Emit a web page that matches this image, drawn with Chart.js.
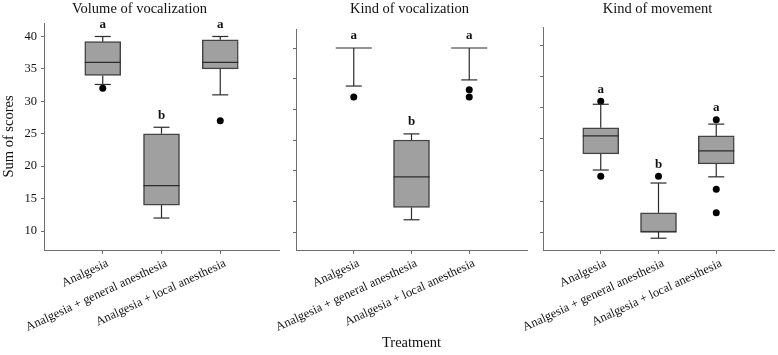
<!DOCTYPE html>
<html>
<head>
<meta charset="utf-8">
<script src="https://cdn.jsdelivr.net/npm/chart.js@4"></script>
<style>
  body { margin: 0; background: #fff; }
  #wrap { position: relative; width: 778px; height: 355px; }
  #wrap canvas { position: absolute; left: 0; top: 0; }
</style>
</head>
<body>
<div id="wrap">
  <canvas id="c1" width="778" height="355"></canvas>
  <canvas id="c2" width="778" height="355"></canvas>
  <canvas id="c3" width="778" height="355"></canvas>
</div>
<script>
const treatments = ['Analgesia', 'Analgesia + general anesthesia', 'Analgesia + local anesthesia'];
const yTicks = [10, 15, 20, 25, 30, 35, 40];

// box stats per treatment: [lower whisker, q1, median, q3, upper whisker]
const volumeBoxes = [[32.6, 34, 36, 39.2, 40], [12, 14, 17, 25, 26], [31, 35, 36, 39.5, 40]];
const volumeOutliers = [[32], [], [27]];
const volumeLetters = ['a', 'b', 'a'];

const kindVocBoxes = [[33.8, 40, 40, 40, 40], [12, 14, 19, 25, 26], [34.8, 40, 40, 40, 40]];
const kindVocOutliers = [[32], [], [33.2, 32]];
const kindVocLetters = ['a', 'b', 'a'];

const movementBoxes = [[20, 22.6, 25.5, 26.8, 30.6], [9, 10, 10, 13.1, 17.9], [18.9, 21, 23.1, 25.5, 27.4]];
const movementOutliers = [[31.1, 19], [19], [28.1, 16.9, 13.1]];
const movementLetters = ['a', 'b', 'a'];

Chart.defaults.font.family = "'Liberation Serif', 'Times New Roman', serif";
Chart.defaults.color = '#111';

const axisColor = '#6e6e6e';

// whiskers, caps, medians and letters drawn through the scales
const boxPlugin = {
  id: 'boxplot',
  afterDatasetsDraw(chart, args, opts) {
    const { ctx, scales: { x, y } } = chart;
    const halfBox = opts.boxWidth / 2;
    const halfCap = opts.capWidth / 2;
    const line = (x1, y1, x2, y2) => {
      ctx.beginPath(); ctx.moveTo(x1, y1); ctx.lineTo(x2, y2); ctx.stroke();
    };
    ctx.save();
    ctx.strokeStyle = '#2b2b2b';
    ctx.lineWidth = 1.2;
    opts.boxes.forEach((b, i) => {
      const cx = x.getPixelForValue(i);
      const [lo, q1, med, q3, hi] = b.map(v => y.getPixelForValue(v));
      if (hi < q3) { line(cx, q3, cx, hi); line(cx - halfCap, hi, cx + halfCap, hi); }
      if (lo > q1) { line(cx, q1, cx, lo); line(cx - halfCap, lo, cx + halfCap, lo); }
      line(cx - halfBox, med, cx + halfBox, med);
      // significance letter
      const top = Math.max(b[4], ...opts.outliers[i]);
      ctx.fillStyle = '#111';
      ctx.font = "bold 13px 'Liberation Serif', serif";
      ctx.textAlign = 'center';
      ctx.textBaseline = 'middle';
      ctx.fillText(opts.letters[i], cx, y.getPixelForValue(top) - 12);
    });
    ctx.restore();
  }
};

function makePanel(id, cfg) {
  const boxData = cfg.boxes.map((b, i) => ({ x: i, y: [b[1], b[3]] }));
  const outlierData = [];
  cfg.outliers.forEach((list, i) => list.forEach(v => outlierData.push({ x: i, y: v })));

  new Chart(document.getElementById(id), {
    type: 'bar',
    data: {
      datasets: [
        {
          type: 'bar',
          data: boxData,
          backgroundColor: '#a0a0a0',
          borderColor: '#444',
          borderWidth: 1.5,
          borderSkipped: false,
          barThickness: 36
        },
        {
          type: 'scatter',
          data: outlierData,
          pointRadius: 3.5,
          pointBackgroundColor: '#000',
          pointBorderColor: '#000',
          pointBorderWidth: 0
        }
      ]
    },
    plugins: [boxPlugin],
    options: {
      responsive: false,
      animation: false,
      events: [],
      layout: { padding: { left: cfg.padLeft, right: cfg.padRight, top: 0, bottom: 0 } },
      plugins: {
        legend: { display: false },
        tooltip: { enabled: false },
        title: {
          display: true,
          text: cfg.title,
          font: { size: 14.5, weight: 'normal', lineHeight: 1.2 },
          color: '#111',
          padding: { top: 0, bottom: cfg.chartTop - 17.4 }
        },
        boxplot: {
          boxes: cfg.boxes,
          outliers: cfg.outliers,
          letters: cfg.letters,
          boxWidth: 36,
          capWidth: 16
        }
      },
      scales: {
        x: {
          type: 'linear',
          min: -1,
          max: 3,
          offset: false,
          afterBuildTicks: s => { s.ticks = [0, 1, 2].map(v => ({ value: v })); },
          afterFit: s => { s.height = 105; },
          grid: { drawOnChartArea: false, drawTicks: true, tickLength: 4, color: axisColor, offset: false },
          border: { display: true, color: axisColor, width: 1 },
          ticks: {
            autoSkip: false,
            minRotation: 25,
            maxRotation: 25,
            padding: 2,
            labelOffset: 5,
            font: { size: 12.5 },
            color: '#111',
            callback: v => treatments[v]
          },
          title: {
            display: cfg.showXTitle,
            text: 'Treatment',
            font: { size: 14.5, lineHeight: 1.2 },
            color: '#111',
            padding: { top: 0, bottom: 3 }
          }
        },
        y: {
          min: cfg.yMin,
          max: cfg.yMax,
          afterBuildTicks: s => { s.ticks = yTicks.map(v => ({ value: v })); },
          afterFit: s => { s.width = cfg.yWidth; },
          grid: { drawOnChartArea: false, drawTicks: true, tickLength: 3, color: axisColor },
          border: { display: true, color: axisColor, width: 1 },
          ticks: {
            display: cfg.showYLabels,
            padding: 4,
            font: { size: 12.5 },
            color: '#111'
          },
          title: {
            display: cfg.showYLabels,
            text: 'Sum of scores',
            font: { size: 14.5, lineHeight: 1.2 },
            color: '#111',
            padding: 0
          }
        }
      }
    }
  });
}

makePanel('c1', {
  title: 'Volume of vocalization',
  boxes: volumeBoxes, outliers: volumeOutliers, letters: volumeLetters,
  padLeft: 0, padRight: 499, yWidth: 44, chartTop: 23,
  yMin: 7.07, yMax: 42.08, showYLabels: true, showXTitle: false
});
makePanel('c2', {
  title: 'Kind of vocalization',
  boxes: kindVocBoxes, outliers: kindVocOutliers, letters: kindVocLetters,
  padLeft: 292, padRight: 251, yWidth: 4, chartTop: 29,
  yMin: 7.07, yMax: 43.1, showYLabels: false, showXTitle: true
});
makePanel('c3', {
  title: 'Kind of movement',
  boxes: movementBoxes, outliers: movementOutliers, letters: movementLetters,
  padLeft: 539, padRight: 2, yWidth: 4, chartTop: 27,
  yMin: 7.1, yMax: 43.06, showYLabels: false, showXTitle: false
});
</script>
</body>
</html>
